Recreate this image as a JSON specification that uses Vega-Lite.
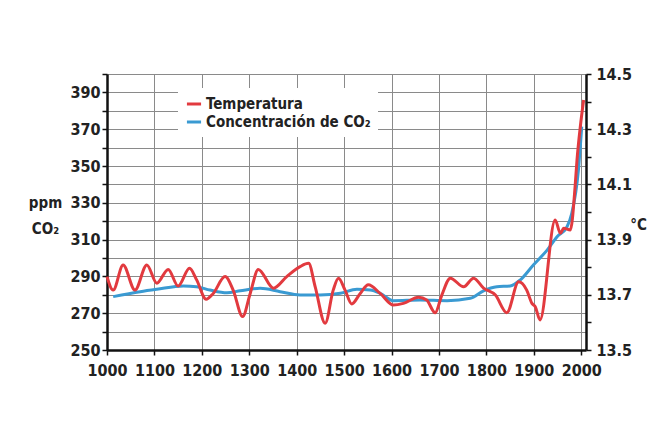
{
  "$schema": "https://vega.github.io/schema/vega-lite/v6.json",
  "width": 479,
  "height": 276,
  "autosize": "none",
  "padding": {"left": 107, "top": 74, "right": 72, "bottom": 90},
  "background": "white",
  "config": {
    "font": "DejaVu Sans Condensed",
    "view": {"stroke": null},
    "axis": {
      "labelFont": "DejaVu Sans Condensed",
      "labelFontWeight": "bold",
      "labelFontSize": 16,
      "labelColor": "#222",
      "titleFont": "DejaVu Sans Condensed",
      "titleFontWeight": "bold",
      "titleFontSize": 15,
      "titleColor": "#222",
      "domainColor": "#111",
      "domainWidth": 2.5,
      "tickColor": "#111",
      "tickWidth": 1.5,
      "tickSize": 5,
      "gridColor": "#8a8a8a",
      "gridWidth": 1,
      "gridOpacity": 1
    }
  },
  "datasets": {
    "temp": [
      {"year": 1000, "temp": 13.766},
      {"year": 1013, "temp": 13.717},
      {"year": 1034, "temp": 13.808},
      {"year": 1059, "temp": 13.717},
      {"year": 1084, "temp": 13.808},
      {"year": 1105, "temp": 13.742},
      {"year": 1129, "temp": 13.792},
      {"year": 1150, "temp": 13.732},
      {"year": 1174, "temp": 13.796},
      {"year": 1189, "temp": 13.754},
      {"year": 1209, "temp": 13.684},
      {"year": 1224, "temp": 13.705},
      {"year": 1249, "temp": 13.766},
      {"year": 1266, "temp": 13.717},
      {"year": 1286, "temp": 13.621},
      {"year": 1302, "temp": 13.705},
      {"year": 1319, "temp": 13.792},
      {"year": 1351, "temp": 13.724},
      {"year": 1379, "temp": 13.766},
      {"year": 1407, "temp": 13.802},
      {"year": 1425, "temp": 13.814},
      {"year": 1439, "temp": 13.729},
      {"year": 1460, "temp": 13.597},
      {"year": 1477, "temp": 13.717},
      {"year": 1488, "temp": 13.760},
      {"year": 1502, "temp": 13.717},
      {"year": 1516, "temp": 13.667},
      {"year": 1534, "temp": 13.705},
      {"year": 1551, "temp": 13.736},
      {"year": 1576, "temp": 13.705},
      {"year": 1604, "temp": 13.663},
      {"year": 1625, "temp": 13.669},
      {"year": 1657, "temp": 13.691},
      {"year": 1674, "temp": 13.681},
      {"year": 1692, "temp": 13.635},
      {"year": 1706, "temp": 13.699},
      {"year": 1724, "temp": 13.760},
      {"year": 1752, "temp": 13.729},
      {"year": 1773, "temp": 13.760},
      {"year": 1794, "temp": 13.724},
      {"year": 1819, "temp": 13.699},
      {"year": 1843, "temp": 13.635},
      {"year": 1868, "temp": 13.747},
      {"year": 1885, "temp": 13.717},
      {"year": 1896, "temp": 13.669},
      {"year": 1903, "temp": 13.657},
      {"year": 1913, "temp": 13.609},
      {"year": 1945, "temp": 13.971},
      {"year": 1956, "temp": 13.923},
      {"year": 1963, "temp": 13.941},
      {"year": 1977, "temp": 13.935},
      {"year": 1987, "temp": 14.092},
      {"year": 1991, "temp": 14.188},
      {"year": 1998, "temp": 14.309},
      {"year": 2005, "temp": 14.406}
    ],
    "co2": [
      {"year": 1013, "ppm": 279.0},
      {"year": 1070, "ppm": 281.7},
      {"year": 1105, "ppm": 283.0},
      {"year": 1161, "ppm": 284.8},
      {"year": 1189, "ppm": 284.4},
      {"year": 1217, "ppm": 282.6},
      {"year": 1253, "ppm": 281.1},
      {"year": 1281, "ppm": 282.2},
      {"year": 1323, "ppm": 283.5},
      {"year": 1365, "ppm": 281.7},
      {"year": 1407, "ppm": 279.9},
      {"year": 1449, "ppm": 279.9},
      {"year": 1492, "ppm": 280.8},
      {"year": 1527, "ppm": 283.0},
      {"year": 1555, "ppm": 282.6},
      {"year": 1576, "ppm": 280.8},
      {"year": 1604, "ppm": 276.8},
      {"year": 1660, "ppm": 277.2},
      {"year": 1717, "ppm": 276.8},
      {"year": 1766, "ppm": 278.1},
      {"year": 1794, "ppm": 282.2},
      {"year": 1822, "ppm": 284.4},
      {"year": 1850, "ppm": 284.8},
      {"year": 1871, "ppm": 288.0},
      {"year": 1899, "ppm": 296.2},
      {"year": 1928, "ppm": 304.3},
      {"year": 1949, "ppm": 311.6},
      {"year": 1970, "ppm": 317.0},
      {"year": 1980, "ppm": 324.3},
      {"year": 1994, "ppm": 347.8},
      {"year": 2001, "ppm": 371.4}
    ]
  },
  "layer": [
    {
      "data": {"name": "co2"},
      "mark": {"type": "line", "interpolate": "monotone", "strokeWidth": 3},
      "encoding": {
        "x": {
          "field": "year", "type": "quantitative",
          "scale": {"domain": [1000, 2010], "nice": false, "zero": false},
          "axis": {
            "values": [1000, 1100, 1200, 1300, 1400, 1500, 1600, 1700, 1800, 1900, 2000],
            "format": "d", "title": null, "grid": true, "labelPadding": 7, "labelFlush": false
          }
        },
        "y": {
          "field": "ppm", "type": "quantitative",
          "scale": {"domain": [250, 400], "nice": false, "zero": false},
          "axis": {
            "orient": "left",
            "values": [250, 260, 270, 280, 290, 300, 310, 320, 330, 340, 350, 360, 370, 380, 390, 400],
            "labelExpr": "datum.value % 20 == 10 ? datum.label : ''",
            "grid": true,
            "labelPadding": 2,
            "labelFlush": false,
            "title": ["ppm", "CO₂"],
            "titleAngle": 0,
            "titleAlign": "center",
            "titleBaseline": "alphabetic",
            "titleX": -62,
            "titleY": 133,
            "titleLineHeight": 26
          }
        },
        "color": {
          "datum": "Concentración de CO₂",
          "type": "nominal",
          "scale": {"domain": ["Temperatura", "Concentración de CO₂"], "range": ["#e23a3f", "#3a9ad2"]},
          "legend": {
            "orient": "none",
            "legendX": 71,
            "legendY": 14,
            "title": null,
            "fillColor": "white",
            "padding": 7,
            "labelFont": "DejaVu Sans Condensed",
            "labelFontWeight": "bold",
            "labelFontSize": 15,
            "labelColor": "#222",
            "labelOffset": 3,
            "labelLimit": 0,
            "symbolType": "stroke",
            "symbolStrokeWidth": 3,
            "symbolSize": 200,
            "rowPadding": 1
          }
        }
      }
    },
    {
      "data": {"name": "temp"},
      "mark": {"type": "line", "interpolate": "monotone", "strokeWidth": 3},
      "encoding": {
        "x": {"field": "year", "type": "quantitative"},
        "y": {
          "field": "temp", "type": "quantitative",
          "scale": {"domain": [13.5, 14.5], "nice": false, "zero": false},
          "axis": {
            "orient": "right",
            "values": [13.5, 13.6, 13.7, 13.8, 13.9, 14.0, 14.1, 14.2, 14.3, 14.4, 14.5],
            "format": ".1f",
            "labelExpr": "round(datum.value * 10) % 2 == 1 ? datum.label : ''",
            "grid": false,
            "labelPadding": 5,
            "labelFlush": false,
            "title": "°C",
            "titleAngle": 0,
            "titleAlign": "center",
            "titleBaseline": "alphabetic",
            "titleX": 52,
            "titleY": 155
          }
        },
        "color": {"datum": "Temperatura", "type": "nominal"}
      }
    }
  ],
  "resolve": {"scale": {"y": "independent"}}
}
